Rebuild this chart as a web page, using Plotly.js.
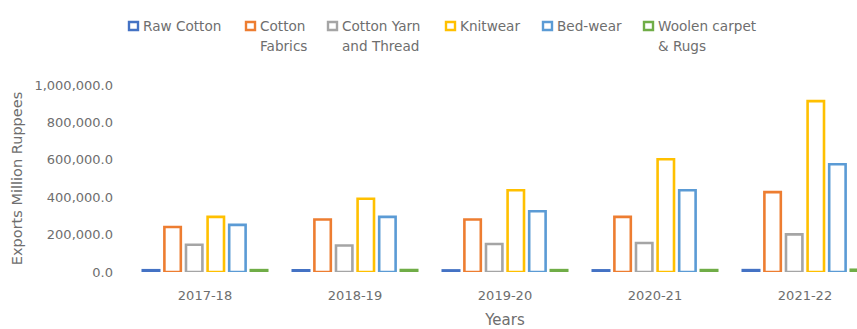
<!DOCTYPE html>
<html>
<head>
<meta charset="utf-8">
<script src="https://cdn.plot.ly/plotly-3.0.1.min.js"></script>
<style>
  html, body { margin: 0; padding: 0; background: #ffffff; overflow: hidden; }
  #chart { width: 900px; height: 329px; }
</style>
</head>
<body>
<div id="chart"></div>
<script>
// Pakistan textile exports by product group (million rupees)
const years = ["2017-18", "2018-19", "2019-20", "2020-21", "2021-22"];

const seriesNames = [
  "Raw Cotton",
  "Cotton<br>Fabrics",
  "Cotton Yarn<br>and Thread",
  "Knitwear",
  "Bed-wear",
  "Woolen carpet<br>& Rugs"
];

const rawCotton     = [9500, 9000, 8500, 8800, 10000];
const cottonFabrics = [241000, 281000, 281000, 295000, 427000];
const cottonYarn    = [146000, 142000, 150000, 155000, 201000];
const knitwear      = [295000, 392000, 437000, 603000, 914000];
const bedWear       = [252000, 295000, 325000, 437000, 576000];
const woolenCarpet  = [10000, 10500, 10000, 10200, 12000];

const seriesValues = [rawCotton, cottonFabrics, cottonYarn, knitwear, bedWear, woolenCarpet];
const seriesColors = ["#4472C4", "#ED7D31", "#A5A5A5", "#FFC000", "#5B9BD5", "#70AD47"];

// Figure geometry (px)
const W = 900, H = 329;
const M = { l: 130, r: 20, t: 85, b: 57 };
const plotW = W - M.l - M.r;
const plotH = H - M.t - M.b;
const px2x = p => (p - M.l) / plotW;
const px2y = p => (H - M.b - p) / plotH;

const FONT = "DejaVu Sans, Liberation Sans, Arial, sans-serif";
const TEXT = "#6e6e6e";

const traces = seriesNames.map((name, i) => ({
  type: "bar",
  name: name.replace("<br>", " "),
  x: years,
  y: seriesValues[i],
  marker: { color: "#ffffff", line: { color: seriesColors[i], width: 2.6 } },
  hovertemplate: "%{x}: %{y:,.1f}<extra>" + name.replace("<br>", " ") + "</extra>"
}));

// Legend drawn as a row of outlined swatches with wrapped labels
const legendLeft = [128, 245, 327, 445, 542, 643];
const swatchW = 11, swatchH = 10, swatchTop = 21;
const textGap = 4, lineY = [26, 46];

const shapes = [];
const annotations = [];
seriesNames.forEach((name, i) => {
  const x0 = legendLeft[i];
  shapes.push({
    type: "rect", xref: "paper", yref: "paper",
    x0: px2x(x0 + 1), x1: px2x(x0 + swatchW - 1),
    y0: px2y(swatchTop + swatchH - 1), y1: px2y(swatchTop + 1),
    fillcolor: "#ffffff",
    line: { color: seriesColors[i], width: 2.4 }
  });
  name.split("<br>").forEach((line, k) => {
    annotations.push({
      xref: "paper", yref: "paper",
      x: px2x(x0 + swatchW + textGap - 2), y: px2y(lineY[k]),
      xanchor: "left", yanchor: "middle",
      text: line, showarrow: false,
      font: { family: FONT, size: 13.6, color: TEXT }
    });
  });
});

const layout = {
  width: W, height: H,
  margin: M,
  paper_bgcolor: "#ffffff",
  plot_bgcolor: "#ffffff",
  showlegend: false,
  barmode: "group",
  bargap: 0.136,
  bargroupgap: 0.24,
  font: { family: FONT, color: TEXT },
  xaxis: {
    type: "category",
    range: [-0.5, 4.5],
    showgrid: false, zeroline: false, showline: false, ticks: "",
    tickfont: { family: FONT, size: 13, color: TEXT },
    ticklabelstandoff: 14,
    title: { text: "Years", font: { family: FONT, size: 15, color: TEXT }, standoff: 19 }
  },
  yaxis: {
    range: [0, 1000000],
    dtick: 200000,
    tickformat: ",.1f",
    showgrid: false, zeroline: false, showline: false, ticks: "",
    tickfont: { family: FONT, size: 13, color: TEXT },
    ticklabelstandoff: 16,
    title: { text: "Exports Million Ruppees", font: { family: FONT, size: 14.5, color: TEXT }, standoff: 8 }
  },
  shapes: shapes,
  annotations: annotations
};

Plotly.newPlot("chart", traces, layout, { displayModeBar: false, staticPlot: true });
</script>
</body>
</html>
